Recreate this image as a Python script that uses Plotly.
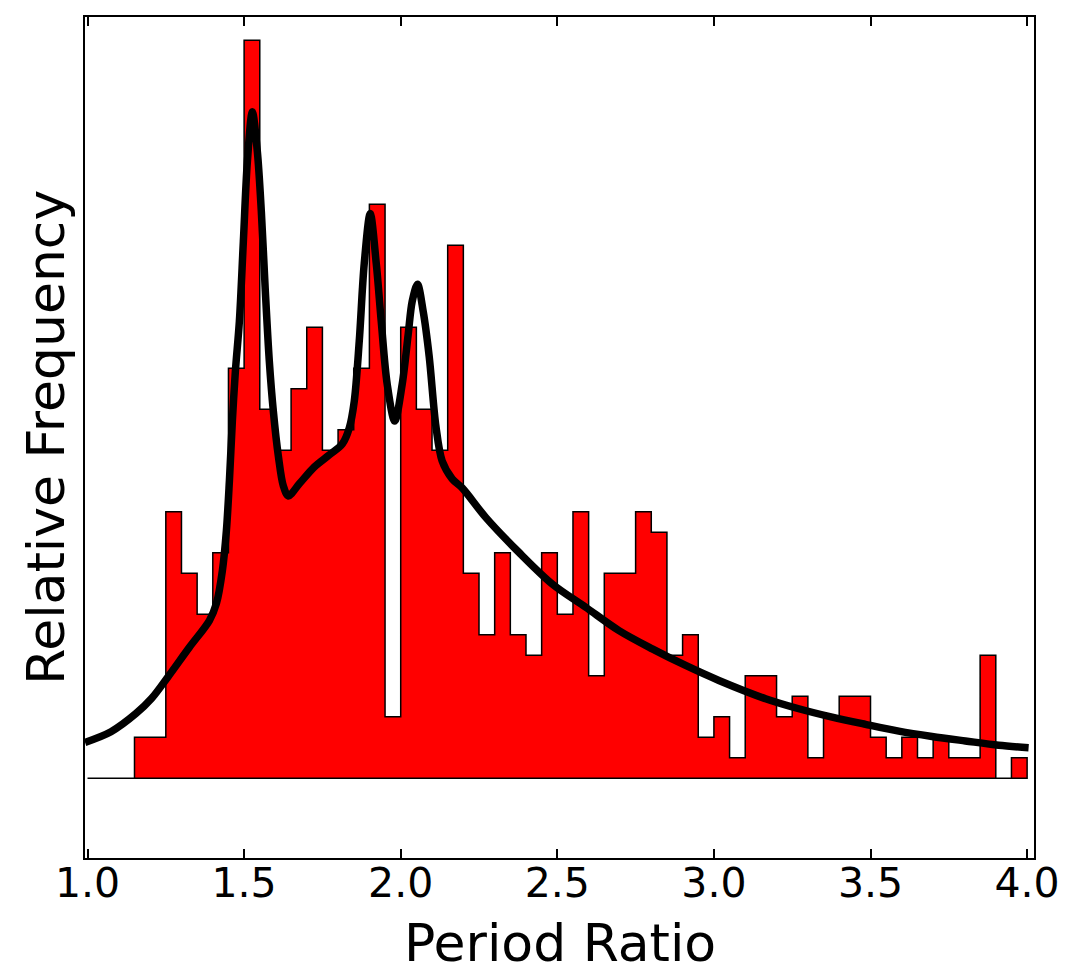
import numpy as np
import plotly.graph_objects as go

# Histogram: counts per 0.05-wide bin starting at 1.00
bin_start = 1.00
bin_width = 0.05
counts = [0, 0, 0, 2, 2, 13, 10, 8, 11, 20,
          36, 18, 16, 19, 22, 16, 17, 20, 28, 3,
          22, 18, 16, 26, 10, 7, 11, 7, 6, 11,
          8, 13, 5, 10, 10, 13, 12, 6, 7, 2,
          3, 1, 5, 5, 3, 4, 1, 3, 4, 4,
          2, 1, 2, 1, 2, 1, 1, 6, 0, 1]

# Smooth model curve
curve_x = [0.992, 1.075, 1.155, 1.205, 1.2561, 1.3254, 1.3892, 1.4115, 1.4306, 1.4434, 1.4530,
           1.4625, 1.4721, 1.4849, 1.4976, 1.5104, 1.5263, 1.5423, 1.5550, 1.5678,
           1.5805, 1.5933, 1.6093, 1.6252, 1.6411, 1.6762, 1.7241, 1.7719, 1.8134,
           1.8357, 1.8517, 1.8676, 1.8836, 1.9027, 1.9219, 1.9378, 1.9569, 1.9809,
           2.0048, 2.0239, 2.0367, 2.0536, 2.0718, 2.0909, 2.1123, 2.1324, 2.1643,
           2.1962, 2.2727, 2.3780, 2.4842, 2.5907, 2.6970, 2.8032, 2.9097, 3.0159,
           3.1649, 3.2711, 3.3774, 3.4839, 3.5901, 3.6963, 3.8029, 3.9091, 4.0048]
curve_y = [1.75, 2.27, 3.16, 3.90, 4.93, 6.39, 7.69, 8.52, 10.12, 12.07, 14.50,
           17.42, 19.85, 22.29, 26.18, 30.07, 32.51, 30.56, 27.64, 23.75,
           20.34, 17.91, 15.72, 14.26, 13.77, 14.36, 15.18, 15.77, 16.30,
           17.08, 18.39, 21.31, 25.11, 27.54, 25.11, 22.29, 19.22, 17.42,
           19.22, 21.65, 23.26, 24.09, 22.77, 20.58, 17.18, 15.47, 14.60,
           14.16, 12.70, 11.01, 9.47, 8.34, 7.20, 6.31, 5.50, 4.77,
           3.88, 3.39, 2.98, 2.63, 2.30, 2.04, 1.82, 1.61, 1.49]

x_ticks = [1.0, 1.5, 2.0, 2.5, 3.0, 3.5, 4.0]
x_tick_text = ["1.0", "1.5", "2.0", "2.5", "3.0", "3.5", "4.0"]

edges = bin_start + bin_width * np.arange(len(counts) + 1)
# closed step polygon (stepfilled style)
hx = list(edges[:-1]) + [edges[-1], edges[-1], edges[0]]
hy = list(counts) + [counts[-1], 0, 0]

fig = go.Figure()
fig.add_trace(go.Scatter(
    x=hx, y=hy, mode="lines", line=dict(color="black", width=1.5, shape="hv"),
    fill="toself", fillcolor="#ff0000", hoverinfo="skip", showlegend=False))
fig.add_trace(go.Scatter(
    x=curve_x, y=curve_y, mode="lines",
    line=dict(color="black", width=7.5, shape="spline", smoothing=0.9),
    showlegend=False))

font = "DejaVu Sans"
fig.update_layout(
    width=1059, height=963,
    margin=dict(l=77, r=32, t=7, b=113),
    paper_bgcolor="white", plot_bgcolor="white",
    font=dict(family=font, color="black"),
    xaxis=dict(range=[0.992, 4.022], tickvals=x_ticks, ticktext=x_tick_text,
               ticks="inside", ticklen=9, tickwidth=2, tickcolor="black",
               showline=True, linecolor="black", linewidth=1.5, mirror="ticks",
               showgrid=False, zeroline=False, ticklabelstandoff=-12,
               tickfont=dict(family=font, size=41, color="black")),
    yaxis=dict(range=[-3.89, 37.13], showticklabels=False, ticks="",
               showline=True, linecolor="black", linewidth=1.5, mirror=True,
               showgrid=False, zeroline=False),
    annotations=[
        dict(text="Period Ratio", xref="paper", yref="paper", x=0.5, y=-0.101,
             xanchor="center", yanchor="middle", showarrow=False,
             font=dict(family=font, size=52, color="black")),
        dict(text="Relative Frequency", xref="paper", yref="paper", x=-0.042, y=0.5,
             xanchor="center", yanchor="middle", textangle=-90, showarrow=False,
             font=dict(family=font, size=52, color="black")),
    ],
)
fig.write_html("out.html")
